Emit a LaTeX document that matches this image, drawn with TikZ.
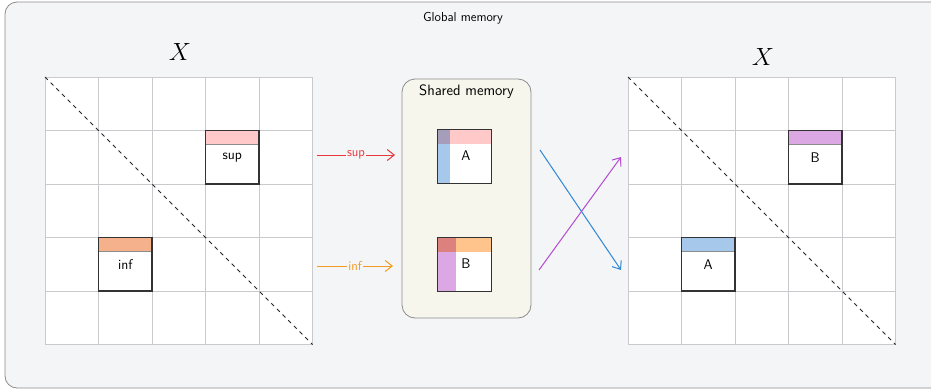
\documentclass[tikz,border=0pt]{standalone}
\usepackage{fontspec}
\usepackage{tikz}
\usetikzlibrary{arrows.meta}
\usepackage{xcolor}
\definecolor{globalbg}{HTML}{F4F5F7}
\definecolor{globalline}{HTML}{8C8C8C}
\definecolor{sharedbg}{HTML}{F7F6EC}
\definecolor{gridgray}{HTML}{C9C9CE}
\definecolor{supfill}{HTML}{FFC9C9}
\definecolor{inffill}{HTML}{F5B08C}
\definecolor{orangefill}{HTML}{FFC48C}
\definecolor{afill}{HTML}{A5C8EB}
\definecolor{bfill}{HTML}{DCA8E4}
\definecolor{suparrow}{HTML}{E8383D}
\definecolor{infarrow}{HTML}{F59A1E}
\definecolor{aarrow}{HTML}{2F86D6}
\definecolor{barrow}{HTML}{B24BD0}

\begin{document}
\begin{tikzpicture}[x=1pt, y=-1pt,
  gridline/.style={gridgray, line width=0.8pt},
  diagline/.style={black!85, dashed, dash pattern=on 4pt off 4pt, line width=1pt},
  cellbox/.style={draw=black!80, line width=1.4pt, minimum size=53.5pt, inner sep=0pt, font=\sffamily\fontsize{14}{14}\selectfont},
  topband/.style={path picture={
    \fill[#1] (path picture bounding box.north west) rectangle ([yshift=-14pt]path picture bounding box.north east);
    \draw[black!45, line width=0.6pt] ([yshift=-14pt]path picture bounding box.north west) -- ([yshift=-14pt]path picture bounding box.north east);}},
  blockbands/.style n args={3}{path picture={
    \fill[#1] (path picture bounding box.north west) rectangle ([yshift=-15pt]path picture bounding box.north east);
    \begin{scope}[blend mode=multiply]
      \fill[#2] (path picture bounding box.north west) rectangle ([xshift=#3]path picture bounding box.south west);
    \end{scope}}},
  flow/.style={line width=1pt, -{Straight Barb[length=7pt, width=11pt]}},
  flowlabel/.style={midway, fill=globalbg, inner sep=1pt, font=\sffamily\fontsize{13}{13}\selectfont}]

  \useasboundingbox (0,0) rectangle (931,391);

  % --- global memory frame ---
  \draw[globalline, fill=globalbg, line width=0.8pt, rounded corners=12pt] (5,2) rectangle (945,388);
  \node[font=\sffamily\fontsize{13}{13}\selectfont] (global) at (463,18) {Global memory};

  % --- matrix labels ---
  \node[font=\fontsize{30}{30}\selectfont] (xleft) at (180,52) {$X$};
  \node[font=\fontsize{30}{30}\selectfont] (xright) at (763,57) {$X$};

  % --- left matrix (before) ---
  \begin{scope}[shift={(45,77)}]
    \fill[white] (0,0) rectangle (267.5,267.5);
    \foreach \i in {0,...,5} {
      \draw[gridline] (\i*53.5,0) -- (\i*53.5,267.5);
      \draw[gridline] (0,\i*53.5) -- (267.5,\i*53.5);
    }
    \coordinate (lnw) at (0,0);
    \coordinate (lse) at (267.5,267.5);
    \draw[diagline] (lnw) -- (lse);
    \node[cellbox, fill=white, topband=supfill] (sup) at (3.5*53.5,1.5*53.5) {\raisebox{-3pt}{sup}};
    \node[cellbox, fill=white, topband=inffill] (inf) at (1.5*53.5,3.5*53.5) {\raisebox{-1pt}{inf}};
  \end{scope}

  % --- right matrix (after) ---
  \begin{scope}[shift={(628,77)}]
    \fill[white] (0,0) rectangle (267.5,267.5);
    \foreach \i in {0,...,5} {
      \draw[gridline] (\i*53.5,0) -- (\i*53.5,267.5);
      \draw[gridline] (0,\i*53.5) -- (267.5,\i*53.5);
    }
    \coordinate (rnw) at (0,0);
    \coordinate (rse) at (267.5,267.5);
    \draw[diagline] (rnw) -- (rse);
    \node[cellbox, fill=white, topband=bfill] (outb) at (3.5*53.5,1.5*53.5) {\raisebox{-3pt}{B}};
    \node[cellbox, fill=white, topband=afill] (outa) at (1.5*53.5,3.5*53.5) {\raisebox{-3pt}{A}};
  \end{scope}

  % --- shared memory tile ---
  \node[draw=globalline, fill=sharedbg, line width=0.8pt, rounded corners=13pt,
        minimum width=129pt, minimum height=239pt] (shared) at (466.5,198.5) {};
  \node[font=\sffamily\fontsize{15}{15}\selectfont, below=3pt] (sharedtitle) at (shared.north) {Shared memory};

  \node[cellbox, line width=1pt, minimum size=54pt, fill=white, blockbands={supfill}{afill}{13pt}] (blocka) at (464,156) {\raisebox{-2pt}{\hspace*{4pt}A}};
  \node[cellbox, line width=1pt, minimum size=54pt, fill=white, blockbands={orangefill}{bfill}{19pt}] (blockb) at (464,264) {\raisebox{-2pt}{\hspace*{4pt}B}};

  % --- loads into shared memory ---
  \coordinate (supout) at (317,155);
  \coordinate (supin) at (395,155);
  \draw[flow, suparrow] (supout) -- node[flowlabel, text=suparrow] {sup} (supin);
  \coordinate (infout) at (317,266);
  \coordinate (infin) at (393,266);
  \draw[flow, infarrow] (infout) -- node[flowlabel, text=infarrow] {inf} (infin);

  % --- swapped stores back to global memory ---
  \coordinate (aout) at (540,150);
  \coordinate (ain) at (621,270);
  \draw[flow, aarrow] (aout) -- (ain);
  \coordinate (bout) at (539,270);
  \coordinate (bin) at (621,157);
  \draw[flow, barrow] (bout) -- (bin);
\end{tikzpicture}
\end{document}
